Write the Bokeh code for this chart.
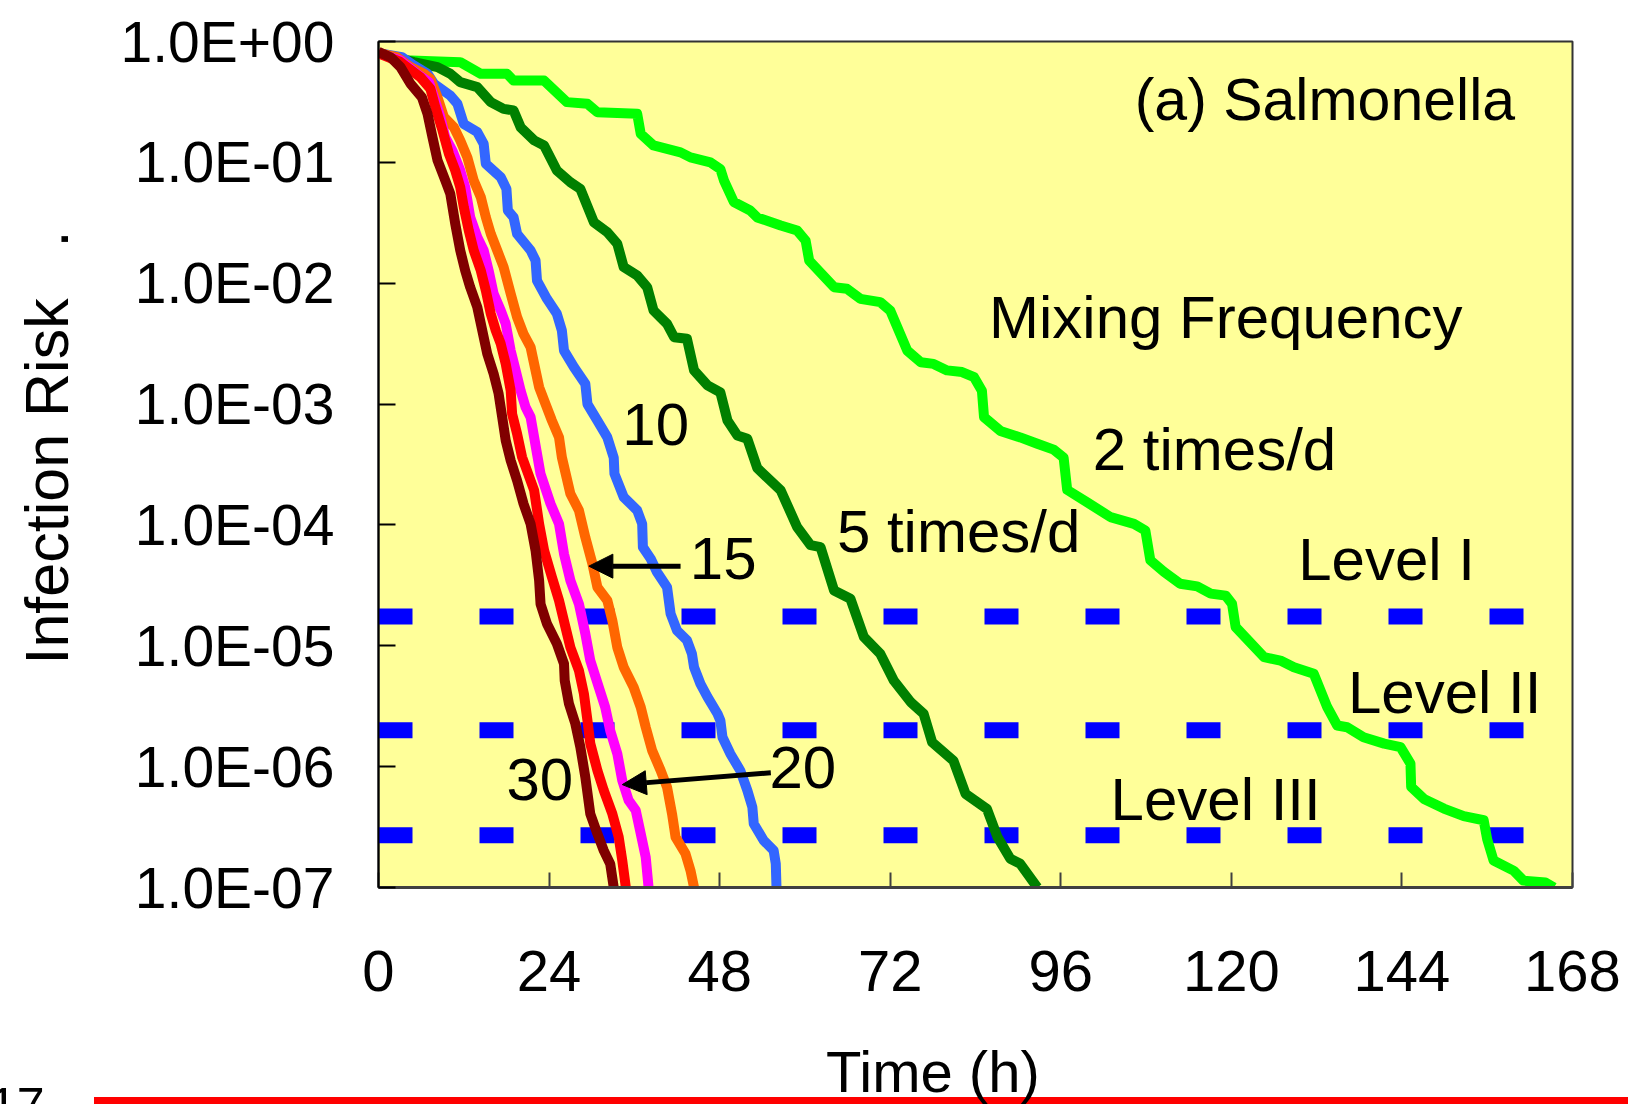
import math
from bokeh.plotting import figure
from bokeh.layouts import column
from bokeh.models import (Range1d, FixedTicker, Arrow, NormalHead,
                          ColumnDataSource, Div)
from bokeh.core.properties import value
from bokeh.embed import file_html
from bokeh.resources import INLINE

FONT = "Liberation Sans"
NBSP = "\u00a0"

# ---------------- data ----------------
x_ticks = [0, 24, 48, 72, 96, 120, 144, 168]
y_ticks = [1e-7, 1e-6, 1e-5, 1e-4, 1e-3, 1e-2, 1e-1, 1.0]
y_tick_labels = ["1.0E-07", "1.0E-06", "1.0E-05", "1.0E-04",
                 "1.0E-03", "1.0E-02", "1.0E-01", "1.0E+00"]

# 2 times/d
t_2 = [0, 3.6, 11.5, 14.4, 18.1, 19.0, 23.3, 26.5, 29.4, 30.8, 36.4, 36.9, 38.7,
       42.5, 43.9, 46.7, 48.1, 48.6, 50.0, 52.3, 53.3, 56.6, 58.9, 60.1, 60.6,
       64.1, 65.9, 67.8, 70.6, 72.0, 74.4, 76.3, 78.1, 80.0, 82.1, 83.8, 84.9,
       85.2, 87.5, 90.3, 92.7, 95.0, 96.4, 96.9, 99.7, 103.0, 106.3, 107.9,
       108.6, 110.5, 112.8, 115.2, 117.1, 119.2, 120.1, 120.6, 124.6, 126.9,
       128.8, 131.6, 133.5, 134.9, 136.3, 138.6, 141.5, 143.8, 145.2, 145.3,
       147.1, 149.9, 152.7, 155.5, 156.0, 156.9, 159.7, 161.1, 164.2, 165.4]
r_2 = [0.80, 0.70, 0.675, 0.54, 0.54, 0.475, 0.475, 0.315, 0.305, 0.26, 0.252,
       0.172, 0.138, 0.121, 0.110, 0.100, 0.088, 0.071, 0.047, 0.040, 0.035,
       0.030, 0.0273, 0.0225, 0.0154, 0.00927, 0.0090, 0.00743, 0.00697,
       0.00594, 0.00277, 0.00222, 0.00215, 0.0019, 0.00184, 0.00167, 0.00129,
       7.8e-4, 6.0e-4, 5.3e-4, 4.7e-4, 4.2e-4, 3.6e-4, 1.95e-4, 1.54e-4,
       1.16e-4, 1.02e-4, 9.0e-5, 5.1e-5, 4.1e-5, 3.26e-5, 3.1e-5, 2.7e-5,
       2.6e-5, 2.22e-5, 1.43e-5, 8.05e-6, 7.55e-6, 6.65e-6, 5.86e-6, 3.1e-6,
       2.19e-6, 2.12e-6, 1.75e-6, 1.55e-6, 1.45e-6, 1.06e-6, 6.8e-7, 5.4e-7,
       4.5e-7, 3.9e-7, 3.6e-7, 2.5e-7, 1.67e-7, 1.38e-7, 1.14e-7, 1.1e-7, 1.0e-7]

# 5 times/d
t_5 = [0, 5.0, 8.3, 10.1, 11.5, 13.9, 15.8, 17.6, 19.0, 20.0, 21.9, 23.3, 25.1,
       27.0, 28.4, 30.3, 32.2, 33.6, 34.5, 36.4, 37.8, 38.7, 40.6, 41.6, 43.4,
       44.4, 46.3, 48.1, 49.1, 50.5, 51.9, 53.3, 56.6, 58.9, 60.8, 62.2, 64.1,
       66.4, 68.3, 70.6, 72.5, 74.9, 76.7, 77.9, 80.9, 82.6, 85.6, 87.1, 88.9,
       90.3, 92.7]
r_5 = [0.80, 0.675, 0.614, 0.541, 0.461, 0.419, 0.315, 0.277, 0.269, 0.195,
       0.152, 0.138, 0.0857, 0.0685, 0.0604, 0.032, 0.0264, 0.0212, 0.0136,
       0.0116, 0.00927, 0.00594, 0.00461, 0.00357, 0.00347, 0.0019, 0.00143,
       0.00125, 7.3e-4, 5.5e-4, 5.16e-4, 2.95e-4, 1.93e-4, 9.6e-5, 6.8e-5,
       6.55e-5, 2.87e-5, 2.45e-5, 1.18e-5, 8.6e-6, 5.16e-6, 3.41e-6, 2.74e-6,
       1.59e-6, 1.12e-6, 5.96e-7, 4.48e-7, 2.61e-7, 1.73e-7, 1.57e-7, 1.0e-7]

# 10 times/d
t_10 = [0, 3.3, 5.0, 6.9, 7.8, 10.1, 11.1, 12.0, 13.9, 14.8, 15.1, 17.2, 18.0,
        18.2, 19.0, 19.5, 21.4, 22.1, 22.3, 23.7, 25.1, 25.8, 26.1, 27.5, 29.1,
        29.4, 30.8, 32.2, 33.1, 33.2, 34.5, 36.4, 37.1, 37.2, 38.3, 39.2, 40.6,
        41.1, 42.0, 43.4, 44.1, 44.4, 45.3, 46.3, 47.7, 48.1, 48.4, 49.5, 50.9,
        51.9, 52.6, 52.8, 54.2, 55.6, 55.9, 56.0]
r_10 = [0.80, 0.741, 0.632, 0.541, 0.447, 0.357, 0.305, 0.208, 0.178, 0.142,
        0.0973, 0.0753, 0.0603, 0.040, 0.0352, 0.0256, 0.0187, 0.0154, 0.0105,
        0.00743, 0.00558, 0.00406, 0.00277, 0.00202, 0.00147, 0.0010, 7.3e-4,
        5.3e-4, 3.6e-4, 2.65e-4, 1.7e-4, 1.32e-4, 1.02e-4, 6.55e-5, 5.25e-5,
        4.06e-5, 3.05e-5, 1.84e-5, 1.34e-5, 1.11e-5, 8.6e-6, 6.65e-6, 4.84e-6,
        3.76e-6, 2.74e-6, 2.41e-6, 1.75e-6, 1.28e-6, 9.3e-7, 6.35e-7, 4.62e-7,
        3.37e-7, 2.45e-7, 2.02e-7, 1.57e-7, 1.0e-7]

# 15 times/d
t_15 = [0, 2.6, 4.5, 6.4, 7.3, 8.3, 9.2, 10.6, 11.5, 12.5, 13.4, 14.4, 15.1,
        15.8, 16.7, 17.6, 18.6, 19.5, 20.4, 21.4, 21.9, 22.6, 23.5, 24.4, 25.4,
        25.8, 27.0, 28.2, 29.1, 30.1, 30.8, 32.2, 32.9, 33.6, 34.5, 35.9, 36.9,
        37.6, 38.5, 39.7, 40.6, 41.3, 41.8, 43.2, 43.9, 44.4]
r_15 = [0.80, 0.741, 0.614, 0.541, 0.491, 0.346, 0.237, 0.195, 0.152, 0.110,
        0.0708, 0.0515, 0.0352, 0.0256, 0.0187, 0.0136, 0.00817, 0.00524,
        0.00381, 0.00296, 0.00215, 0.00138, 0.0010, 7.3e-4, 5.3e-4, 3.63e-4,
        1.81e-4, 1.32e-4, 7.9e-5, 4.76e-5, 3.05e-5, 2.37e-5, 1.62e-5, 9.7e-6,
        6.65e-6, 4.54e-6, 3.1e-6, 2.12e-6, 1.36e-6, 9.3e-7, 6.76e-7, 4.07e-7,
        2.61e-7, 1.9e-7, 1.38e-7, 1.0e-7]

# 20 times/d
t_20 = [0, 3.0, 5.4, 7.1, 7.8, 8.7, 9.4, 10.4, 11.5, 12.2, 12.9, 13.9, 14.8,
        15.5, 16.2, 17.2, 17.9, 18.6, 19.3, 20.0, 20.7, 21.4, 21.9, 22.8, 24.2,
        25.4, 26.1, 27.0, 28.2, 29.1, 29.8, 31.0, 31.9, 32.6, 33.6, 34.3, 35.2,
        36.2, 36.9, 37.6, 38.0]
r_20 = [0.80, 0.70, 0.541, 0.461, 0.346, 0.237, 0.161, 0.125, 0.0857, 0.0624,
        0.0352, 0.024, 0.0187, 0.0127, 0.00817, 0.00594, 0.00461, 0.00277,
        0.0019, 0.00129, 9.4e-4, 7.8e-4, 5.3e-4, 2.65e-4, 1.5e-4, 1.02e-4,
        5.77e-5, 3.47e-5, 2.22e-5, 1.26e-5, 7.55e-6, 4.54e-6, 3.1e-6, 1.99e-6,
        1.28e-6, 7.67e-7, 5.25e-7, 4.34e-7, 2.78e-7, 1.78e-7, 1.0e-7]

# 25 times/d
t_25 = [0, 3.0, 5.9, 7.3, 8.0, 9.0, 9.9, 10.8, 11.5, 12.0, 12.7, 13.4, 14.4,
        15.1, 15.8, 16.5, 17.2, 17.9, 18.6, 18.8, 19.5, 20.2, 21.9, 22.6, 23.3,
        24.4, 25.4, 26.3, 27.0, 28.2, 28.9, 29.4, 29.8, 30.8, 31.7, 32.9, 33.8,
        34.3, 34.8]
r_25 = [0.80, 0.68, 0.507, 0.406, 0.286, 0.184, 0.118, 0.0857, 0.0624, 0.0426,
        0.0273, 0.0187, 0.0127, 0.00871, 0.00558, 0.00406, 0.00315, 0.00215,
        0.00129, 8.3e-4, 5.68e-4, 3.64e-4, 1.93e-4, 1.02e-4, 6.14e-5, 3.7e-5,
        2.37e-5, 1.43e-5, 9.7e-6, 6.25e-6, 4.01e-6, 2.41e-6, 1.55e-6, 9.3e-7,
        6.35e-7, 4.07e-7, 2.61e-7, 1.67e-7, 1.0e-7]

# 30 times/d
t_30 = [0, 1.7, 3.1, 4.5, 6.1, 6.9, 7.6, 8.3, 9.4, 10.1, 10.8, 11.5, 12.2, 12.9,
        13.9, 14.6, 15.3, 16.2, 16.9, 17.4, 17.9, 18.6, 19.5, 20.4, 21.4, 22.1,
        22.6, 22.8, 23.7, 25.1, 26.1, 26.2, 26.8, 27.7, 28.4, 29.1, 29.8, 30.8,
        31.7, 32.6, 33.1]
r_30 = [0.82, 0.741, 0.614, 0.447, 0.346, 0.252, 0.161, 0.104, 0.0708, 0.055,
        0.031, 0.0187, 0.0127, 0.00927, 0.00634, 0.00406, 0.00261, 0.00178,
        0.00122, 7.8e-4, 5.0e-4, 3.41e-4, 2.33e-4, 1.5e-4, 1.02e-4, 6.14e-5,
        3.47e-5, 2.22e-5, 1.52e-5, 1.04e-5, 7.1e-6, 5.16e-6, 3.31e-6, 2.26e-6,
        1.45e-6, 8.2e-7, 4.07e-7, 2.78e-7, 2.02e-7, 1.57e-7, 1.0e-7]

series_names = ["2 times/d", "5 times/d", "10", "15", "20", "25", "30"]
series_t = [t_2, t_5, t_10, t_15, t_20, t_25, t_30]
series_r = [r_2, r_5, r_10, r_15, r_20, r_25, r_30]
series_colors = ["#00FF00", "#008000", "#3366FF", "#FF6600", "#FF00FF",
                 "#FF0000", "#800000"]

level_names = ["Level I", "Level II", "Level III"]
level_values = [1.75e-5, 2.0e-6, 2.7e-7]

ann_text = ["(a) Salmonella", "Mixing Frequency", "2 times/d", "5 times/d",
            "10", "15", "20", "30", "Level I", "Level II", "Level III"]
ann_t = [106.4, 85.9, 100.5, 64.5, 34.3, 43.8, 55.0, 18.0, 129.4, 136.4, 103.0]
ann_v = [0.331, 5.2e-3, 4.2e-4, 8.82e-5, 6.76e-4, 5.27e-5, 9.82e-7, 7.82e-7,
         5.17e-5, 4.1e-6, 5.33e-7]
ann_size = ["59px"] + ["60px"] * 10

# arrows: (t_start, v_start, t_end, v_end)
arrow_15 = (42.5, 4.56e-5, 29.6, 4.56e-5)
arrow_20 = (55.2, 8.9e-7, 34.3, 7.1e-7)

x_title = "Time (h)"
y_title = "Infection Risk"
page_number = "17"

# ---------------- figure ----------------
W, H = 1628, 1104
p = figure(width=W, height=H, x_range=Range1d(0, 168), y_range=Range1d(1e-7, 1),
           y_axis_type="log", output_backend="svg", toolbar_location=None,
           min_border_left=378, min_border_right=56, min_border_top=41,
           min_border_bottom=217)
p.title.visible = False
p.background_fill_color = "#FFFF99"
p.border_fill_color = "white"
p.outline_line_color = "#333333"
p.outline_line_width = 2
p.xgrid.visible = False
p.ygrid.visible = False

p.xaxis.ticker = FixedTicker(ticks=x_ticks, minor_ticks=[])
p.xaxis.major_label_text_font = FONT
p.xaxis.major_label_text_font_size = "58px"
p.xaxis.major_label_text_color = "black"
p.xaxis.major_label_standoff = 63
p.xaxis.major_tick_in = 15
p.xaxis.major_tick_out = 0
p.xaxis.major_tick_line_color = "#404040"
p.xaxis.major_tick_line_width = 2
p.xaxis.minor_tick_line_color = None
p.xaxis.axis_line_color = "#404040"
p.xaxis.axis_line_width = 3

p.yaxis.ticker = FixedTicker(ticks=y_ticks, minor_ticks=[])
p.yaxis.major_label_overrides = dict(zip(y_ticks, y_tick_labels))
p.yaxis.major_label_text_font = FONT
p.yaxis.major_label_text_font_size = "57px"
p.yaxis.major_label_text_color = "black"
p.yaxis.major_label_standoff = 44
p.yaxis.major_tick_in = 17
p.yaxis.major_tick_out = 0
p.yaxis.major_tick_line_color = "black"
p.yaxis.major_tick_line_width = 2
p.yaxis.minor_tick_line_color = None
p.yaxis.axis_line_color = "black"
p.yaxis.axis_line_width = 2
# the small mark above the title in the reference is a trailing "."
p.yaxis.axis_label = NBSP * 2 + y_title + NBSP * 3 + "."
p.yaxis.axis_label_text_font = FONT
p.yaxis.axis_label_text_font_size = "61px"
p.yaxis.axis_label_text_font_style = "normal"
p.yaxis.axis_label_text_color = "black"
p.yaxis.axis_label_standoff = 37

# level lines
for lv in level_values:
    p.line(x=[0, 168], y=[lv, lv], line_color="#0000FF", line_width=16,
           line_dash="34 67", line_cap="butt")

# curves
for t, r, c in zip(series_t, series_r, series_colors):
    p.line(x=t, y=r, line_color=c, line_width=10, line_join="round",
           line_cap="butt")

# annotation texts
src = ColumnDataSource(dict(t=ann_t, v=ann_v, text=ann_text, size=ann_size))
p.text(x="t", y="v", text="text", source=src, text_font=value(FONT),
       text_font_size="size", text_color="black", text_align="left",
       text_baseline="alphabetic")

for (xs, ys, xe, ye) in (arrow_15, arrow_20):
    p.add_layout(Arrow(end=NormalHead(size=24, fill_color="black",
                                      line_color="black", line_width=1),
                       x_start=xs, y_start=ys, x_end=xe, y_end=ye,
                       line_color="black", line_width=5))

# bottom strip (x-axis title, page number, red rule) overlaid on the
# lower edge of the figure
STRIP_H = 59
strip_html = (
    '<div style="position:relative;width:1628px;height:%dpx;overflow:hidden;">'
    '<div style="position:absolute;left:94px;top:52px;width:1534px;height:7px;'
    'background:#FF0000;"></div>'
    '<span style="position:absolute;left:-11px;top:36px;font-family:\'%s\';'
    'font-size:50px;line-height:50px;color:#000;white-space:nowrap;">%s</span>'
    '<span style="position:absolute;left:826px;top:-2px;font-family:\'%s\';'
    'font-size:58px;line-height:58px;color:#000;white-space:nowrap;">%s</span>'
    '</div>' % (STRIP_H, FONT, page_number, FONT, x_title)
)
strip = Div(text=strip_html, width=W, height=STRIP_H,
            margin=(-STRIP_H, 0, 0, 0),
            styles={"position": "relative", "z-index": "10"})

layout = column(p, strip, spacing=0)
open("out.html", "w").write(file_html(layout, INLINE))
